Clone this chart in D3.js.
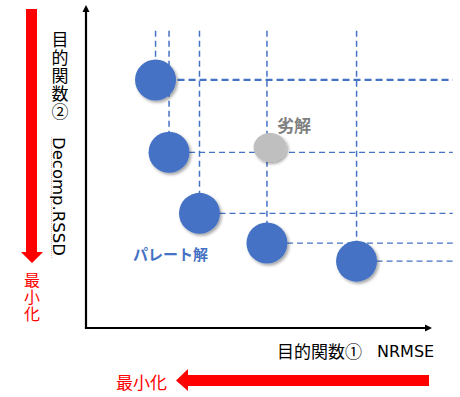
<!DOCTYPE html>
<html><head><meta charset="utf-8">
<script src="https://cdn.jsdelivr.net/npm/d3@7"></script>
<style>html,body{margin:0;padding:0;background:#fff;}svg{display:block;}</style>
</head><body>
<svg id="c" width="460" height="397"></svg>
<script>
// ---- data (abstract objective values, 0-100) ----
const paretoLabels = ["A", "B", "C", "D", "E"];
const paretoX = [20.1, 24.0, 32.8, 52.3, 78.2];   // objective 1 (NRMSE)
const paretoY = [76.8, 54.4, 35.5, 26.3, 20.7];   // objective 2 (Decomp.RSSD)
const dominatedX = [53.2];
const dominatedY = [55.9];
const guideTop = 92;     // vertical guide lines reach this y value
const guideRight = 106;  // horizontal guide lines reach this x value
const xAxisTitleJa = "目的関数①";
const xAxisTitleEn = "NRMSE";
const yAxisTitleJa = "目的関数②";
const yAxisTitleEn = "Decomp.RSSD";
const minimizeText = "最小化";
const paretoText = "パレート解";
const dominatedText = "劣解";

const svg = d3.select("#c");
const x = d3.scaleLinear().domain([0, 100]).range([86, 432]);
const y = d3.scaleLinear().domain([0, 100]).range([328, 5]);
const blue = "#4472C4";
const red = "#FF0000";
const jp = "'Noto Sans CJK JP','Noto Sans',sans-serif";
const lat = "'DejaVu Sans','Noto Sans CJK JP',sans-serif";

const defs = svg.append("defs");
const f = defs.append("filter").attr("id", "sh").attr("x", "-30%").attr("y", "-30%").attr("width", "170%").attr("height", "170%");
f.append("feDropShadow").attr("dx", 1.8).attr("dy", 2).attr("stdDeviation", 1.4).attr("flood-color", "#000").attr("flood-opacity", 0.35);

// ---- guide lines ----
const pts = paretoX.map((v, i) => ({x: paretoX[i], y: paretoY[i], i, label: paretoLabels[i]}));
const g = svg.append("g");
g.selectAll("line.v").data(pts).join("line").attr("class", "v")
  .attr("x1", d => x(d.x)).attr("x2", d => x(d.x))
  .attr("y1", y(guideTop)).attr("y2", d => y(d.y))
  .attr("stroke", blue).attr("stroke-width", 1.5).attr("stroke-dasharray", "6,4");
g.selectAll("line.h").data(pts).join("line").attr("class", "h")
  .attr("x1", d => x(d.x)).attr("x2", x(guideRight))
  .attr("y1", d => y(d.y)).attr("y2", d => y(d.y))
  .attr("stroke", blue).attr("stroke-width", d => d.i === 0 ? 2.2 : 1.2)
  .attr("stroke-dasharray", d => d.i === 0 ? "7,4" : "6,4");

// ---- axes (black arrows) ----
const ax = svg.append("g");
ax.append("line").attr("x1", x(0)).attr("y1", y(0)).attr("x2", x(0)).attr("y2", y(100) + 5)
  .attr("stroke", "#000").attr("stroke-width", 2.2);
ax.append("path").attr("d", `M${x(0)},${y(100)} l-3.5,7 l7,0 z`).attr("fill", "#000");
ax.append("line").attr("x1", x(0) - 1.1).attr("y1", y(0)).attr("x2", x(100) - 5).attr("y2", y(0))
  .attr("stroke", "#000").attr("stroke-width", 2.2);
ax.append("path").attr("d", `M${x(100)},${y(0)} l-7,-3.5 l0,7 z`).attr("fill", "#000");

// ---- points ----
svg.selectAll("circle.p").data(pts).join("circle").attr("class", "p")
  .attr("cx", d => x(d.x)).attr("cy", d => y(d.y)).attr("r", 20.5)
  .attr("fill", blue).attr("filter", "url(#sh)");
svg.selectAll("ellipse.d").data(dominatedX.map((v, i) => ({x: v, y: dominatedY[i]}))).join("ellipse").attr("class", "d")
  .attr("cx", d => x(d.x)).attr("cy", d => y(d.y)).attr("rx", 16.5).attr("ry", 14.5)
  .attr("fill", "#BFBFBF").attr("filter", "url(#sh)");

// ---- labels ----
svg.append("text").attr("x", x(dominatedX[0]) + 7).attr("y", 132)
  .attr("font-family", jp).attr("font-weight", "bold").attr("font-size", 17).attr("fill", "#7F7F7F")
  .text(dominatedText);
svg.append("text").attr("x", 133).attr("y", 260)
  .attr("font-family", jp).attr("font-weight", "bold").attr("font-size", 15).attr("fill", blue)
  .text(paretoText);

// x axis title
svg.append("text").attr("x", 277).attr("y", 358).attr("font-family", jp).attr("font-size", 17).attr("fill", "#000").text(xAxisTitleJa);
svg.append("text").attr("x", 377).attr("y", 357).attr("font-family", lat).attr("font-size", 16).attr("fill", "#000").text(xAxisTitleEn);

// y axis title (vertical)
svg.append("text").attr("x", 60).attr("y", 31)
  .style("writing-mode", "vertical-rl").attr("letter-spacing", 1)
  .attr("font-family", jp).attr("font-size", 17).attr("fill", "#000").text(yAxisTitleJa);
svg.append("line").attr("x1", 51.5).attr("x2", 51.5).attr("y1", 137).attr("y2", 259)
  .attr("stroke", "#e8a0a0").attr("stroke-width", 0.8).attr("stroke-dasharray", "1,1");
svg.append("text").attr("transform", "translate(53,137) rotate(90)")
  .attr("font-family", lat).attr("font-size", 16.5).attr("fill", "#000").text(yAxisTitleEn);

// ---- red minimize arrows ----
svg.append("path").attr("d", "M26,9 L37,9 L37,252 L43,252 L32,263 L21,252 L26,252 Z").attr("fill", red);
svg.append("text").attr("x", 32).attr("y", 272)
  .style("writing-mode", "vertical-rl").attr("letter-spacing", 1)
  .attr("font-family", jp).attr("font-size", 16).attr("fill", red).text(minimizeText);
svg.append("path").attr("d", "M429,375 L429,386 L188,386 L188,391 L176,380.5 L188,369 L188,375 Z").attr("fill", red);
svg.append("text").attr("x", 116).attr("y", 381).attr("dominant-baseline", "central")
  .attr("font-family", jp).attr("font-size", 17).attr("fill", red).text(minimizeText);
</script>
</body></html>
